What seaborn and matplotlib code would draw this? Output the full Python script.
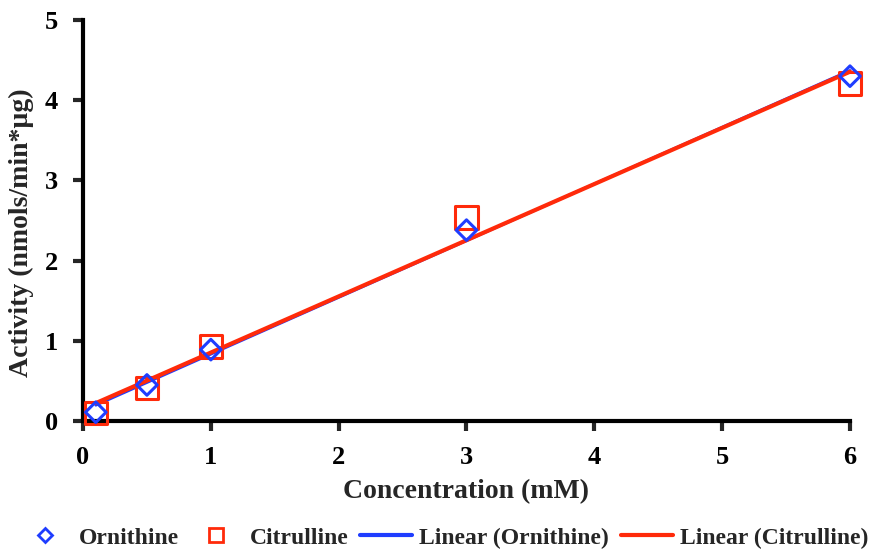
import numpy as np
import pandas as pd
import seaborn as sns
import matplotlib
matplotlib.use("Agg")
import matplotlib.pyplot as plt
from matplotlib.lines import Line2D

conc = [0.1, 0.5, 1.0, 3.0, 6.0]
ornithine = [0.11, 0.45, 0.89, 2.38, 4.30]
citrulline = [0.10, 0.41, 0.93, 2.54, 4.21]

blue = "#1f3dff"
red = "#ff2a0a"

sns.set_style("white")
plt.rcParams["font.family"] = ["Liberation Serif", "DejaVu Serif"]
plt.rcParams["font.weight"] = "bold"

df = pd.DataFrame({"conc": conc, "Ornithine": ornithine, "Citrulline": citrulline})

fig = plt.figure(figsize=(8.7, 5.5), dpi=100)
ax = fig.add_axes([0.0954, 0.2345, 0.8816, 0.7291])

sns.regplot(data=df, x="conc", y="Ornithine", ax=ax, ci=None, scatter=False,
            line_kws=dict(color=blue, lw=2, clip_on=False))
sns.regplot(data=df, x="conc", y="Citrulline", ax=ax, ci=None, scatter=False,
            line_kws=dict(color=red, lw=3, clip_on=False))
sns.scatterplot(data=df, x="conc", y="Citrulline", ax=ax, marker="s", s=260,
                facecolor="none", edgecolor=red, linewidth=2.2, zorder=3, clip_on=False)
sns.scatterplot(data=df, x="conc", y="Ornithine", ax=ax, marker="D", s=110,
                facecolor="none", edgecolor=blue, linewidth=2.2, zorder=4, clip_on=False)

ax.set_xlim(0, 6)
ax.set_ylim(0, 5)
ax.set_xticks(range(0, 7))
ax.set_yticks(range(0, 6))
for s in ["top", "right"]:
    ax.spines[s].set_visible(False)
for s in ["left", "bottom"]:
    ax.spines[s].set_linewidth(3)
    ax.spines[s].set_color("black")
    ax.spines[s].set_zorder(2)
ax.tick_params(axis="both", direction="out", length=7, width=3, labelsize=19,
               left=True, bottom=True, labelcolor="black")
ax.tick_params(axis="x", pad=11)
ax.tick_params(axis="y", pad=11)
for lab in ax.get_xticklabels() + ax.get_yticklabels():
    lab.set_fontweight("bold")
ax.set_xlabel("Concentration (mM)", fontsize=20, fontweight="bold")
ax.set_ylabel("Activity (nmols/min*µg)", fontsize=20, fontweight="bold")
ax.xaxis.set_label_coords(0.5, -0.177)
ax.yaxis.set_label_coords(-0.08, 0.47)
ax.yaxis.label.set_va("center")
ax.xaxis.label.set_va("center")

handles = [
    Line2D([], [], ls="none", marker="D", ms=7, mfc="none", mec=blue, mew=2),
    Line2D([], [], ls="none", marker="s", ms=10, mfc="none", mec=red, mew=2),
    Line2D([], [], color=blue, lw=3),
    Line2D([], [], color=red, lw=3),
]
labels = ["Ornithine", "Citrulline", "Linear (Ornithine)", "Linear (Citrulline)"]
fig.legend(handles, labels, loc="center", bbox_to_anchor=(0.51, 0.022), ncol=4,
           frameon=False, prop=dict(family="Liberation Serif", weight="bold", size=17),
           handlelength=2.2, handletextpad=0.3, columnspacing=0.5)

fig.savefig("out.png", dpi=100)
